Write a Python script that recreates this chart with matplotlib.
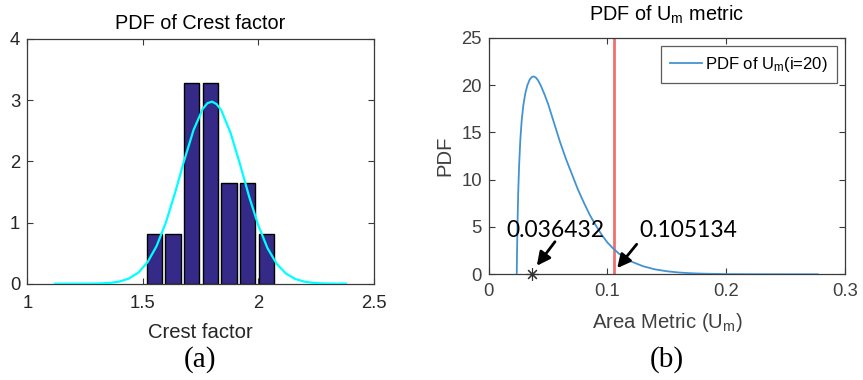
import matplotlib
matplotlib.use("Agg")
import matplotlib.pyplot as plt

plt.rcParams['font.family'] = ['Liberation Sans', 'DejaVu Sans']
plt.rcParams['mathtext.fontset'] = 'custom'
plt.rcParams['mathtext.rm'] = 'Liberation Sans'
plt.rcParams['mathtext.it'] = 'Liberation Sans:italic'

# ---------------- data (a) ----------------
bar_centers = [1.550, 1.631, 1.712, 1.793, 1.873, 1.954, 2.036]
bar_heights = [0.82, 0.82, 3.28, 3.28, 1.64, 1.64, 0.82]
fit_x = [1.12, 1.16, 1.20, 1.24, 1.28, 1.32, 1.36, 1.40, 1.44, 1.48, 1.52, 1.56,
         1.60, 1.64, 1.68, 1.72, 1.76, 1.78, 1.80, 1.82, 1.84, 1.88, 1.92, 1.96,
         2.00, 2.04, 2.08, 2.12, 2.16, 2.20, 2.24, 2.28, 2.32, 2.36, 2.38]
fit_y = [0.0, 0.0, 0.0001, 0.0005, 0.0017, 0.0052, 0.014, 0.036, 0.084, 0.178, 0.346, 0.615,
         0.999, 1.486, 2.019, 2.513, 2.859, 2.950, 2.977, 2.935, 2.835, 2.469, 1.968, 1.433,
         0.957, 0.583, 0.325, 0.166, 0.078, 0.033, 0.013, 0.0046, 0.0015, 0.0005, 0.0002]
xticks_a = [1, 1.5, 2, 2.5]
yticks_a = [0, 1, 2, 3, 4]

# ---------------- data (b) ----------------
um_x = [0.0236, 0.0238, 0.0242, 0.0248, 0.0256, 0.0266, 0.0278, 0.0292, 0.0308, 0.0326,
        0.0346, 0.0366, 0.0380, 0.0396, 0.0415, 0.0440, 0.0470,
        0.0500, 0.0550, 0.0600, 0.0650, 0.0700, 0.0750, 0.0800, 0.0850, 0.0900, 0.0950,
        0.1000, 0.1050, 0.1100, 0.1150, 0.1200, 0.1300, 0.1400, 0.1500, 0.1600, 0.1700,
        0.1800, 0.2000, 0.2200, 0.2500, 0.2770]
um_y = [0.0, 2.0, 5.0, 8.5, 11.5, 14.2, 16.3, 17.9, 19.1, 20.0,
        20.6, 20.87, 20.9, 20.8, 20.5, 19.9, 19.0,
        18.0, 16.0, 14.0, 12.2, 10.6, 9.0, 7.6, 6.3, 5.2, 4.2,
        3.35, 2.7, 2.15, 1.7, 1.35, 0.85, 0.52, 0.32, 0.19, 0.11,
        0.065, 0.02, 0.007, 0.002, 0.0005]
um_min = 0.036432
um_obs = 0.105134
xticks_b = [0, 0.1, 0.2, 0.3]
yticks_b = [0, 5, 10, 15, 20, 25]

axcol = '#262626'

fig = plt.figure(figsize=(8.63, 3.80), dpi=100)

# ---------------- panel (a) ----------------
ax1 = fig.add_axes([0.0316, 0.2534, 0.4014, 0.6440])
ax1.bar(bar_centers, bar_heights, width=0.066, color='#352a87',
        edgecolor='black', linewidth=1.0, zorder=2)
ax1.plot(fit_x, fit_y, color='#00ffff', lw=1.6, zorder=3)
ax1.set_xlim(1, 2.5)
ax1.set_ylim(0, 4)
ax1.set_xticks(xticks_a)
ax1.set_xticklabels(['1', '1.5', '2', '2.5'])
ax1.set_yticks(yticks_a)
ax1.set_title('PDF of Crest factor', fontsize=14.3, color='black', pad=7)
ax1.set_xlabel('Crest factor', fontsize=14.6, color=axcol, labelpad=8)

# ---------------- panel (b) ----------------
ax2 = fig.add_axes([0.5663, 0.2782, 0.4128, 0.6226])
ax2.plot(um_x, um_y, color='#4393d3', lw=1.3, label=r'PDF of U$_\mathregular{m}$(i=20)', zorder=3)
ax2.axvline(um_obs, color='#f07070', lw=2.0, zorder=2)
ax2.plot([um_min], [0], marker=(8, 2, 0), color='#333333', markersize=9,
         markeredgewidth=0.8, clip_on=False, zorder=5, linestyle='none')
ax2.set_xlim(0, 0.3)
ax2.set_ylim(0, 25)
ax2.set_xticks(xticks_b)
ax2.set_xticklabels(['0', '0.1', '0.2', '0.3'])
ax2.set_yticks(yticks_b)
ax2.set_title(r'PDF of U$_\mathregular{m}$ metric', fontsize=14.3, color='black', pad=12.5)
ax2.set_xlabel(r'Area Metric (U$_\mathregular{m}$)', fontsize=14.6, color='#404040', labelpad=8)
ax2.set_ylabel('PDF', fontsize=14.6, color='#404040', labelpad=5)
leg = ax2.legend(loc='upper right', fontsize=12.0, frameon=True, fancybox=False,
                 handlelength=1.9, handletextpad=0.2, borderpad=0.55,
                 borderaxespad=0.5)
leg.get_frame().set_edgecolor('#333333')
leg.get_frame().set_linewidth(0.9)

ann_font = dict(family=['Lato', 'DejaVu Sans'], fontsize=16.5, color='black')
ax2.annotate('', xy=(0.0405, 0.9), xytext=(0.0558, 3.44),
             arrowprops=dict(arrowstyle='-|>', color='black', lw=2.0, mutation_scale=20,
                             shrinkA=0, shrinkB=0))
ax2.annotate('', xy=(0.1082, 0.65), xytext=(0.1246, 3.17),
             arrowprops=dict(arrowstyle='-|>', color='black', lw=2.0, mutation_scale=20,
                             shrinkA=0, shrinkB=0))
ax2.text(0.0150, 3.9, '0.036432', ha='left', va='baseline', **ann_font)
ax2.text(0.1270, 3.9, '0.105134', ha='left', va='baseline', **ann_font)

for ax, tc, xp in ((ax1, axcol, 8.0), (ax2, '#404040', 6.5)):
    for s in ax.spines.values():
        s.set_color('#3a3a3a')
        s.set_linewidth(0.9)
    ax.tick_params(direction='in', top=True, right=True, length=4, width=0.8,
                   color='#3a3a3a', labelsize=13.3, labelcolor=tc)
    ax.tick_params(axis='x', pad=xp)
    ax.tick_params(axis='y', pad=5)

fig.text(0.2312, 0.034, '(a)', family='Liberation Serif', fontsize=21,
         ha='center', va='baseline')
fig.text(0.7727, 0.034, '(b)', family='Liberation Serif', fontsize=21,
         ha='center', va='baseline')

fig.savefig('out.png', dpi=100)
